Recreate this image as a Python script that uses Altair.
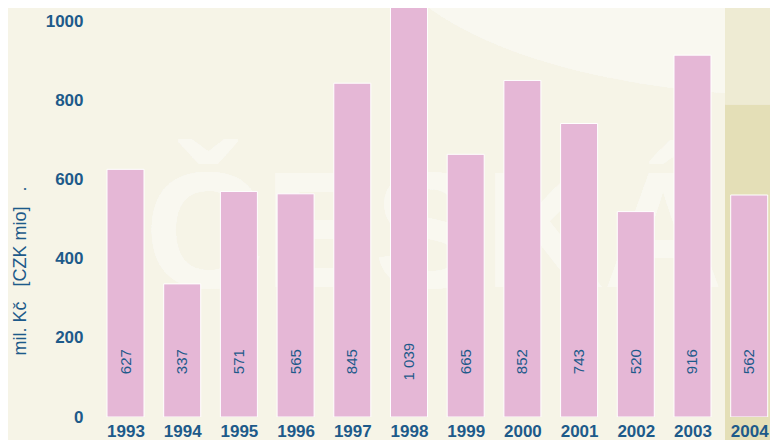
import altair as alt
import pandas as pd

# ---- data ----
years = [1993, 1994, 1995, 1996, 1997, 1998, 1999, 2000, 2001, 2002, 2003, 2004]
values = [627, 337, 571, 565, 845, 1039, 665, 852, 743, 520, 916, 562]
labels = ["627", "337", "571", "565", "845", "1 039", "665", "852", "743", "520", "916", "562"]
y_ticks = [0, 200, 400, 600, 800, 1000]
y_title = "mil. Kč\u00a0\u00a0\u00a0[CZK mio]\u00a0\u00a0\u00a0."
watermark = "ČESKÁ"

df = pd.DataFrame({"year": years, "value": values, "label": labels})

# ---- layout / style ----
BLUE = "#1d5a8a"
PINK = "#e5b7d6"
BG = "#f6f4e7"
GLOW = "#f9f8f0"
BAND_LOW = "#e4dfb7"
BAND_HIGH = "#eeebd3"
FONT = "Liberation Sans"
W, H = 675, 409
X_DOM = [1992.462, 2004.367]
Y_DOM = [0, 1035.4]
HALF = 0.3263

xs = alt.Scale(domain=X_DOM, nice=False, zero=False)
ys = alt.Scale(domain=Y_DOM, nice=False, zero=False)

ellipse_path = "M -1 0 A 1 0.394 0 1 0 1 0 A 1 0.394 0 1 0 -1 0 Z"
glow = alt.Chart(df).mark_point(
    shape=ellipse_path, size=705600, filled=True, fill=GLOW, color=GLOW,
    opacity=1, strokeWidth=0
).encode(
    x=alt.datum(2004.896, scale=xs),
    y=alt.datum(1233, scale=ys),
)

band_low = alt.Chart(df).mark_rect(color=BAND_LOW).encode(
    x=alt.datum(2003.58, scale=xs),
    x2=alt.datum(X_DOM[1]),
    y=alt.datum(792, scale=ys),
    y2=alt.value(H + 40),
)
band_high = alt.Chart(df).mark_rect(color=BAND_HIGH).encode(
    x=alt.datum(2003.58, scale=xs),
    x2=alt.datum(X_DOM[1]),
    y=alt.datum(792, scale=ys),
    y2=alt.value(-20),
)

wm = alt.Chart(df).mark_text(
    text=watermark, font=FONT, fontSize=165, fontWeight="bold",
    color=GLOW, align="left", baseline="alphabetic"
).encode(
    x=alt.datum(1993.344, scale=xs),
    y=alt.datum(329, scale=ys),
)

bars = alt.Chart(df).transform_calculate(
    x0=f"datum.year - {HALF}", x1=f"datum.year + {HALF}"
).mark_bar(color=PINK, stroke="white", strokeWidth=1, clip=True).encode(
    x=alt.X("x0:Q", scale=xs, axis=alt.Axis(
        values=years, format="d", title=None, ticks=False, domain=False, grid=False,
        labelFont=FONT, labelFontSize=17, labelFontWeight="bold", labelColor=BLUE,
        labelPadding=6, labelFlush=False, labelOverlap=False, labelBound=False,
        zindex=1)),
    x2="x1:Q",
    y=alt.Y("value:Q", scale=ys, axis=alt.Axis(
        values=y_ticks, format="d", title=y_title, ticks=False, domain=False, grid=False,
        labelFont=FONT, labelFontSize=17, labelFontWeight="bold", labelColor=BLUE,
        labelPadding=12, labelFlush=False, labelOverlap=False,
        titleFont=FONT, titleFontSize=18, titleFontWeight="normal", titleColor=BLUE,
        titleAngle=270, titleAlign="left", titleBaseline="middle",
        titleX=-75, titleY=347, zindex=1)),
    y2=alt.datum(0),
)

texts = alt.Chart(df).mark_text(
    angle=270, font=FONT, fontSize=15, color=BLUE, align="center", baseline="middle"
).encode(
    x=alt.X("year:Q", scale=xs),
    y=alt.datum(140, scale=ys),
    text="label:N",
)

chart = alt.layer(glow, band_low, band_high, wm, bars, texts).properties(
    width=W, height=H,
    autosize=alt.AutoSizeParams(type="none"),
    padding={"left": 87, "top": 0, "right": 0, "bottom": 23},
    background=BG,
).configure_view(stroke=None)

chart.save("out.html", embed_options={"renderer": "svg", "actions": False})
